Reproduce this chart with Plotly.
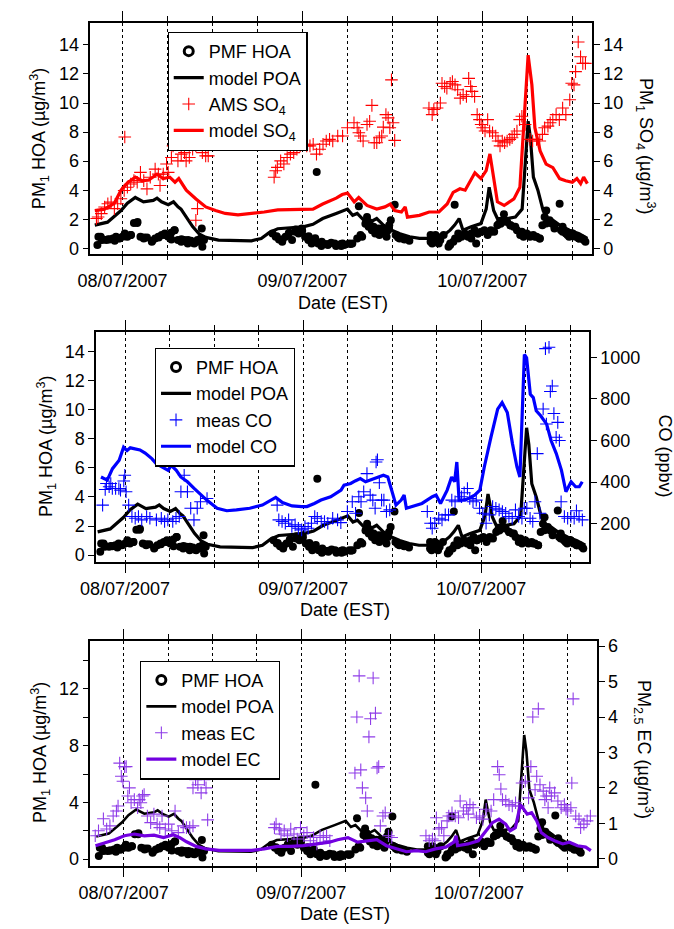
import plotly.graph_objects as go
import pandas as pd

BASE = pd.Timestamp("2007-07-08 00:00")

# ---------------- data (hours after 08/07/2007 00:00 EST) ----------------
hoa_h = [-3.35, -2.91, -2.61, -2.17, -1.74, -1.30, -0.87, -0.43, 0.0, 0.30, 0.65, 1.09, 1.52, 1.96, 2.39, 2.83,
         3.26, 3.91, 4.35, 4.78, 5.22, 5.65, 6.09, 6.52, 6.96, 7.39, 7.83, 8.26, 8.70, 9.13, 9.57, 10.0, 10.43,
         10.57, 10.65, 10.87,
         20.0, 20.43, 20.87, 21.30, 21.74, 22.17, 22.61, 23.04, 23.48, 23.91, 24.35, 24.78, 25.22, 25.9, 25.65,
         26.09, 26.52, 26.96, 27.39, 27.83, 28.48, 29.13, 29.57, 30.22, 30.65, 31.30, 31.52, 31.96, 32.39, 32.61,
         32.83, 33.04, 33.26, 33.48, 33.70, 33.91, 34.26, 34.57, 34.78, 35.22, 35.57, 35.78, 36.3, 36.43, 36.96,
         37.61, 38.26,
         41.09, 41.30, 41.52, 41.96, 42.39, 42.83, 43.48, 43.70, 44.3, 44.13, 44.35, 44.78, 45.22, 45.65, 46.09,
         46.52, 46.96, 47.17, 47.39, 47.83, 48.26, 48.70, 49.13, 49.57, 50.0, 50.43, 50.87, 51.30, 51.74, 52.17,
         52.61, 53.04, 53.48, 53.91, 54.35, 54.78, 55.22, 55.65, 56.0, 56.30, 56.52, 56.96, 57.30, 57.61, 58.3,
         58.48, 58.70, 59.13, 59.57, 60.0, 60.43, 60.87, 61.30, 61.74,
         -3.22, -2.78, -1.91, -1.04, -0.39, 0.39, 1.13, 2.0, 2.87, 3.96, 4.83, 5.61, 6.48, 6.91, 7.87, 8.74,
         9.39, 10.04, 10.70, 20.57, 21.35, 22.22, 23.09, 23.96, 24.83, 25.70, 26.57, 27.43, 28.30, 29.17,
         29.35, 30.43, 31.74, 32.52, 32.83, 33.48, 34.13, 34.78, 35.43, 36.74, 37.39, 41.09, 41.74, 42.17,
         43.70, 44.78, 45.65, 46.52, 47.39, 48.48, 49.13, 50.22, 50.65, 51.74, 52.39, 53.26, 54.13, 55.0,
         55.65, 56.52, 57.61, 58.70, 59.35, 60.0, 60.87, 61.52]
hoa_v = [0.23, 0.80, 0.61, 0.57, 0.61, 0.68, 0.80, 0.68, 0.80, 1.02, 0.80, 0.91, 1.75, 1.75, 0.80, 0.68,
         0.75, 0.45, 0.68, 0.80, 0.91, 1.02, 0.80, 0.61, 1.25, 0.57, 0.45, 0.57, 0.34, 0.52, 0.34, 0.57, 0.68,
         1.36, 0.11, 0.57,
         1.02, 0.80, 0.61, 0.45, 0.80, 1.02, 0.57, 1.14, 1.02, 1.36, 0.80, 0.57, 0.34, 5.25, 0.52,
         0.34, 0.16, 0.30, 0.23, 0.39, 0.16, 0.30, 0.23, 0.34, 0.34, 0.68, 2.89, 0.80, 1.70, 2.16,
         1.82, 1.59, 1.25, 1.48, 1.02, 1.25, 0.91, 1.36, 1.02, 0.80, 1.59, 1.93, 3.00, 0.91, 0.68,
         0.61, 0.52,
         0.91, 0.34, 0.68, 0.80, 0.57, 0.91, 0.11, 0.34, 3.00, 0.45, 0.68, 1.02, 0.80, 1.02, 0.80,
         1.02, 1.25, 0.34, 1.02, 1.14, 1.25, 0.91, 1.14, 1.14, 1.59, 1.70, 2.34, 1.82, 1.59, 1.48,
         1.25, 0.91, 0.80, 1.02, 0.80, 0.91, 0.80, 0.68, 1.59, 2.16, 2.61, 1.93, 1.70, 1.59, 3.07,
         1.25, 1.48, 1.02, 0.80, 1.02, 0.80, 0.68, 0.68, 0.45,
         0.80, 0.57, 0.62, 0.53, 0.69, 0.84, 0.91, 1.82, 0.75, 0.53, 0.75, 0.91, 1.07, 1.25, 0.62, 0.57,
         0.39, 0.46, 0.62, 0.84, 0.62, 1.07, 1.30, 1.21, 0.84, 0.69, 0.46, 0.30, 0.34, 0.16,
         0.34, 0.30, 0.91, 1.71, 1.48, 1.25, 1.37, 1.14, 1.25, 0.75, 0.68, 0.46, 0.91, 0.34,
         0.23, 0.68, 0.91, 0.68, 1.02, 1.14, 1.25, 1.71, 1.82, 1.59, 1.48, 1.14, 0.91, 0.80,
         0.68, 1.71, 1.37, 1.14, 0.91, 1.02, 0.68, 0.57]

poa_h = [-3.7, -2.0, -0.2, 0.65, 1.7, 2.8, 4.1, 4.6, 5.2, 6.1, 6.8, 7.4, 7.8, 8.5, 9.35, 10.2, 11.1, 12.8,
         15.0, 17.2, 18.5, 19.6, 20.7, 22.4, 24.1, 25.4, 26.7, 28.5, 29.3, 30.0, 30.7, 31.3, 32.2, 33.0, 33.9,
         34.8, 35.9, 37.0, 38.3, 39.6, 41.3, 42.6, 43.7, 44.3, 44.9, 45.4, 46.5, 47.8, 48.5, 48.9, 49.5, 50.0,
         51.3, 52.4, 53.3, 53.8, 54.1, 54.4, 54.8, 55.4, 56.1, 56.7, 57.4, 58.3, 59.6, 60.9, 62.0]
poa_v = [1.6, 1.8, 2.6, 3.1, 3.5, 3.2, 3.3, 3.45, 3.2, 3.0, 3.2, 2.85, 2.7, 2.15, 1.5, 1.0, 0.75, 0.57,
         0.52, 0.52, 0.68, 1.1, 1.35, 1.43, 1.48, 1.65, 2.05, 2.4, 2.55, 2.7, 2.27, 2.4, 1.93, 1.8, 2.05,
         1.6, 1.25, 1.0, 0.8, 0.68, 0.68, 0.8, 1.25, 1.6, 2.05, 1.25, 1.48, 1.7, 2.7, 4.2, 2.6, 2.05,
         2.05, 2.15, 2.7, 6.7, 8.75, 7.6, 4.9, 4.0, 2.6, 2.05, 1.93, 1.6, 1.25, 1.0, 0.68]

so4_h = [-3.48, -3.26, -2.83, -2.39, -1.96, -1.52, -1.09, -0.65, -0.22, 0.22, 0.30, 0.65, 1.09, 1.52, 1.96,
         2.39, 2.83, 3.26, 3.70, 4.35, 4.78, 5.0, 5.43, 5.87, 6.09, 6.52, 6.74, 6.96, 7.39, 7.83, 8.26, 8.48,
         8.91, 9.35, 9.78, 10.0, 9.78, 10.22, 10.65, 11.09, 11.43,
         20.22, 20.43, 20.65, 21.09, 21.52, 21.96, 22.39, 22.83, 23.26, 23.70, 24.13, 24.57, 25.0, 25.43,
         25.87, 26.30, 26.74, 27.17, 27.61, 28.04, 28.70, 29.35, 30.0, 30.87, 31.30, 31.52, 31.74, 32.09,
         32.61, 32.96, 33.26, 33.57, 33.91, 34.26, 34.57, 34.78, 35.13, 35.43, 35.65, 35.87, 36.09, 36.30,
         40.87, 41.30, 41.52, 41.96, 42.39, 42.61, 42.96, 43.26, 43.70, 44.0, 44.35, 44.70, 45.04, 45.43,
         45.87, 46.17, 46.43, 46.61, 46.96, 47.30, 47.61, 47.83, 48.04, 48.35, 48.70, 48.96, 49.35, 49.78,
         50.09, 50.35, 50.65, 50.96, 51.30, 51.65, 51.96, 52.26, 52.61, 52.96, 53.26, 53.70, 54.35, 54.70,
         55.22, 55.65, 56.0, 56.30, 56.74, 57.04, 57.39, 57.83, 58.26, 58.70, 59.13, 59.65, 59.91, 60.22,
         60.43, 60.78, 61.09, 61.39, 61.74]
so4_v = [2.05, 2.16, 2.39, 2.84, 3.07, 3.18, 2.73, 3.07, 3.41, 3.98, 7.66, 4.20, 4.43, 4.66, 4.55,
         5.23, 4.66, 4.09, 4.89, 5.45, 5.11, 4.32, 5.11, 5.80, 5.23, 6.25, 7.05, 7.27, 6.02, 6.48, 6.59, 6.02,
         6.25, 6.82, 7.05, 2.73, 1.93, 7.39, 6.59, 6.36, 6.36,
         4.89, 5.34, 5.57, 6.02, 5.80, 6.25, 6.48, 6.59, 6.82, 7.05, 7.16, 7.05, 7.05, 7.16,
         6.48, 6.82, 7.16, 7.39, 7.50, 7.39, 7.73, 7.73, 8.30, 8.64, 8.30, 7.95, 7.73, 7.39,
         8.52, 8.75, 9.84, 7.27, 7.27, 7.61, 7.73, 8.34, 9.20, 8.98, 8.30, 11.59, 8.64, 7.43,
         9.66, 9.20, 9.55, 9.66, 10.0, 11.36, 11.14, 11.02, 11.36, 11.48, 11.25, 10.91, 10.34, 10.57,
         10.45, 11.70, 11.14, 10.80, 10.45, 9.20, 8.86, 8.52, 8.30, 8.07, 8.86, 8.07, 7.95, 7.73,
         7.39, 7.05, 7.39, 7.27, 7.39, 7.50, 7.61, 7.84, 8.07, 8.86, 9.09, 8.52, 7.50, 7.39,
         7.50, 7.39, 7.84, 8.30, 8.41, 8.64, 8.86, 9.20, 8.86, 9.66, 9.20, 10.23, 11.36, 11.25,
         12.16, 14.20, 13.18, 12.73, 12.73]

so4m_h = [-3.7, -2.4, -1.1, -0.2, 0.65, 1.7, 2.6, 3.5, 4.6, 5.4, 6.3, 7.0, 7.5, 8.5, 9.8, 11.1, 12.4, 13.7,
          15.4, 17.2, 18.9, 20.7, 22.4, 24.1, 25.4, 26.7, 28.5, 29.3, 30.0, 30.9, 31.5, 32.6, 33.9, 35.0, 35.7,
          36.3, 37.2, 37.7, 38.0, 39.6, 40.9, 42.2, 43.3, 44.1, 45.0, 45.7, 47.0, 47.8, 48.5, 49.0, 49.5, 50.0,
          50.9, 52.2, 53.0, 53.7, 54.1, 54.6, 55.0, 55.7, 56.5, 57.4, 58.3, 59.1, 60.0, 60.6, 61.1, 61.5, 62.0]
so4m_v = [2.6, 2.7, 3.1, 4.0, 4.5, 4.9, 4.65, 4.7, 5.1, 4.8, 4.9, 4.55, 4.8, 4.0, 3.4, 2.85, 2.6, 2.4,
          2.3, 2.4, 2.5, 2.65, 2.65, 2.65, 2.7, 3.05, 3.45, 3.7, 3.8, 3.2, 3.5, 2.95, 2.7, 2.85, 3.05,
          2.6, 2.5, 2.85, 2.15, 2.27, 2.5, 2.5, 3.05, 3.85, 4.1, 4.0, 5.2, 4.8, 5.35, 6.5, 4.9, 3.2,
          2.95, 3.4, 4.2, 10.1, 13.3, 11.25, 8.3, 6.7, 5.8, 5.55, 4.8, 4.65, 4.55, 4.8, 4.45, 4.9, 4.45]

co_h = [-3.03, -2.68, -2.51, -2.15, -1.93, -1.72, -1.28, -0.84, -0.62, -0.18, -0.04, 0.13, 0.48, 0.92, 1.36,
        1.80, 2.24, 2.90, 3.34, 4.22, 4.88, 5.32, 5.76, 6.42, 6.86, 7.30, 7.52, 7.96, 8.40, 8.84, 9.28, 9.72,
        10.16, 10.82, 11.04,
        20.49, 20.71, 21.15, 21.59, 22.03, 22.47, 22.91, 23.35, 23.79, 24.23, 24.67, 25.11, 25.55, 25.90,
        26.43, 26.87, 27.31, 27.97, 28.63, 29.07, 29.95, 30.61, 31.05, 31.49, 31.79, 32.15, 32.59, 33.03,
        33.38, 33.69, 33.82, 34.0, 34.26, 34.56, 34.87, 35.22, 35.66,
        40.72, 41.16, 41.38, 41.73, 42.26, 42.70, 43.14, 43.58, 44.02, 44.46, 45.34, 45.69, 46.13, 46.44,
        46.88, 47.32, 47.76, 48.20, 48.64, 49.08, 49.52, 49.96, 50.40, 50.84, 51.28, 51.72, 52.16, 52.60,
        53.03, 53.47, 53.78, 54.13, 54.57, 54.93, 55.23, 55.54, 55.89, 56.33, 56.77, 56.64, 57.12, 57.30,
        57.56, 57.78, 58.08, 58.30, 58.52, 58.75, 59.19, 59.63, 60.07, 60.51, 60.82, 61.17, 61.61]
co_v = [290, 365, 394, 378, 394, 370, 370, 370, 362, 406, 433, 354, 290, 235, 227,
        235, 219, 235, 227, 219, 227, 211, 219, 211, 227, 235, 354, 433, 354, 275, 219, 275,
        306, 592, 322,
        290, 219, 211, 203, 219, 187, 195, 179, 171, 187, 179, 203, 235, 227,
        211, 211, 203, 227, 219, 206, 259, 306, 251, 330, 306, 354, 441, 338,
        314, 275, 497, 508, 397, 314, 314, 259, 267,
        259, 203, 179, 203, 227, 219, 243, 243, 314, 306, 330, 349, 370, 322,
        306, 314, 275, 251, 203, 243, 283, 275, 267, 259, 251, 235, 227, 267,
        235, 227, 275, 275, 227, 211, 306, 537, 251, 751, 679, 1041, 1048, 835,
        862, 730, 616, 687, 600, 306, 235, 227, 235, 227, 263, 235, 219]

com_h = [-3.25, -2.4, -1.7, -0.8, -0.2, 0.26, 0.7, 1.4, 2.0, 2.7, 3.6, 4.2, 5.1, 5.8, 6.2, 6.9, 7.5, 8.4, 9.3,
         10.2, 11.0, 12.4, 13.7, 15.0, 16.8, 18.5, 19.6, 20.3, 21.2, 22.5, 23.8, 24.5, 25.5, 26.4, 27.7, 29.1,
         29.5, 30.4, 31.0, 31.7, 32.4, 33.0, 33.9, 34.8, 35.4, 36.1, 36.5, 37.2, 37.6, 37.9, 38.7, 40.0, 41.4,
         41.9, 42.5, 43.4, 44.0, 44.4, 44.7, 45.0, 45.8, 47.1, 47.8, 48.4, 49.3, 50.2, 50.8, 51.5, 52.2, 52.8,
         53.2, 53.5, 53.8, 54.1, 54.6, 55.0, 55.4, 56.0, 56.8, 57.4, 58.1, 58.8, 59.4, 60.1, 60.7, 61.2, 61.6]
com_v = [425, 410, 465, 505, 568, 552, 565, 560, 555, 540, 513, 489, 473, 457, 481, 457, 425, 402, 370,
         338, 314, 275, 263, 267, 275, 290, 314, 327, 302, 286, 283, 283, 298, 314, 330, 362,
         386, 394, 406, 417, 402, 410, 425, 433, 425, 346, 290, 314, 338, 275, 283, 298, 330,
         338, 298, 362, 425, 402, 497, 314, 314, 338, 362, 473, 616, 751, 782, 735, 584, 473,
         425, 743, 1013, 997, 822, 806, 743, 719, 679, 600, 537, 457, 354, 402, 378, 378, 402]

ec_h = [-3.83, -3.39, -2.73, -2.29, -1.85, -1.41, -0.97, -0.75, -0.53, -0.31, -0.09, 0.13, 0.35, 0.57, 0.79,
        1.01, 1.45, 1.89, 2.11, 2.33, 2.55, 2.77, 3.21, 3.65, 4.09, 4.53, 4.88, 5.19, 5.63, 6.07, 6.51, 6.95,
        7.39, 8.05, 8.49, 8.93, 9.37, 9.37, 9.72, 10.03, 10.25, 10.47, 10.91, 11.13, 11.35,
        20.37, 20.59, 21.03, 21.25, 21.69, 22.13, 22.57, 23.01, 23.45, 23.89, 24.33, 24.77, 25.21, 25.65,
        26.09, 26.53, 26.97, 27.41, 27.85,
        31.24, 31.50, 31.81, 32.03, 32.25, 32.69, 32.91, 33.13, 33.35, 33.70, 34.01, 34.23, 34.45, 34.67,
        35.02, 35.33, 35.77, 36.21,
        40.83, 41.27, 41.71, 42.06, 42.24, 42.59, 42.94, 43.25, 43.69, 43.91, 44.35, 44.79, 45.23, 45.45,
        45.89, 46.33, 46.55, 46.77, 47.20, 47.65, 48.09, 48.53, 48.97, 49.63, 49.98, 50.51, 50.73, 50.95,
        51.17, 51.61, 52.05, 52.49, 52.93, 53.37, 53.81, 54.25, 54.69, 55.0, 55.26, 55.57, 55.79, 56.01,
        56.23, 56.67, 56.89, 57.11, 57.33, 57.55, 57.77, 58.21, 58.65, 59.09, 59.53, 59.75, 59.97, 60.40,
        60.53, 60.71, 61.06, 61.50, 61.72, 62.16, 62.60, 63.04]
ec_v = [0.65, 0.79, 1.13, 0.84, 0.93, 1.21, 1.35, 1.49, 2.70, 2.33, 2.19, 2.60, 2.60, 1.77, 2.0,
        1.58, 1.67, 1.44, 1.67, 1.58, 1.77, 1.81, 1.21, 1.02, 1.26, 0.98, 0.88, 1.21, 0.84, 0.98, 0.79, 1.35,
        0.74, 0.93, 0.88, 0.88, 0.93, 2.0, 2.23, 2.09, 2.47, 1.86, 2.23, 2.0, 1.10,
        0.88, 0.98, 0.84, 0.70, 0.79, 0.65, 0.84, 0.70, 0.56, 0.88, 0.65, 0.74, 0.51, 0.60,
        0.42, 0.65, 0.60, 0.65, 0.51,
        2.42, 4.0, 5.16, 2.51, 2.0, 1.72, 1.35, 3.44, 3.95, 5.10, 4.11, 2.56, 2.60, 0.93,
        1.21, 1.30, 0.65, 0.60,
        0.65, 0.51, 0.56, 0.51, 1.16, 0.84, 0.88, 0.65, 1.07, 1.21, 1.30, 1.21, 1.16, 1.63,
        1.35, 1.44, 1.26, 1.53, 1.44, 1.16, 1.21, 1.12, 1.40, 1.35, 1.67, 2.60, 2.37, 1.97,
        1.67, 1.63, 1.53, 1.49, 1.58, 1.49, 2.14, 2.19, 1.72, 2.60, 4.0, 1.95, 2.33, 4.23,
        2.09, 1.91, 1.67, 1.77, 1.44, 2.0, 1.77, 1.86, 1.63, 1.44, 1.53, 1.40, 1.35, 1.44,
        2.14, 4.51, 1.21, 1.12, 0.88, 0.98, 1.07, 1.21]

ecm_h = [-3.8, -2.5, -1.2, 0.1, 1.45, 2.8, 4.1, 5.4, 6.7, 7.6, 8.5, 9.8, 11.1, 12.9, 15.1, 17.3, 19.0, 20.8,
         22.6, 24.3, 26.1, 27.8, 28.9, 30.3, 31.6, 32.9, 34.2, 35.5, 36.9, 38.2, 39.5, 40.8, 42.1, 43.5, 44.6,
         44.9, 45.1, 46.5, 47.9, 48.7, 49.8, 50.7, 51.6, 52.2, 52.9, 53.6, 54.0, 54.5, 55.1, 55.8, 56.4, 57.3,
         58.2, 59.3, 60.2, 61.3, 62.4, 63.1]
ecm_v = [0.37, 0.45, 0.54, 0.65, 0.7, 0.65, 0.67, 0.6, 0.68, 0.6, 0.48, 0.35, 0.28, 0.24, 0.24, 0.24, 0.28, 0.35,
         0.35, 0.37, 0.42, 0.47, 0.54, 0.6, 0.47, 0.51, 0.54, 0.37, 0.28, 0.2, 0.23, 0.2, 0.28, 0.33, 0.47,
         0.65, 0.37, 0.42, 0.51, 0.74, 1.02, 1.12, 0.98, 0.79, 0.88, 1.53, 1.4, 1.26, 1.3, 1.07, 0.74, 0.6,
         0.51, 0.42, 0.47, 0.37, 0.33, 0.23]

day_ticks = ["2007-07-08", "2007-07-09", "2007-07-10"]
day_labels = ["08/07/2007", "09/07/2007", "10/07/2007"]


def T(hours):
    return [BASE + pd.Timedelta(hours=h) for h in hours]


FONT = "Liberation Sans, Arial, sans-serif"
W, H = 674, 929
RED, BLUE, PURPLE, PURPLE_L = "#FF0000", "#0000FF", "#7200E0", "#8F3DE8"

panels = [
    dict(frame=(77, 590, 19, 252), xr=(-4.3, 62.6), yl=(-0.36, 15.52), yr=(-0.36, 15.52),
         ldt=2, lminor=None, rdt=2, meas=(so4_h, so4_v), model=(so4m_h, so4m_v), col=RED, pcol=RED,
         names=("AMS SO<sub>4</sub>", "model SO<sub>4</sub>"), legpos=(156, 28),
         ltitle=(25, 136), rtitle=(645, 143), rtext="PM<sub>1</sub> SO<sub>4</sub> (µg/m<sup>3</sup>)",
         xtitle=(335, 302), lw=3.2),
    dict(frame=(83, 587, 331, 563), xr=(-3.9, 62.5), yl=(-0.44, 15.34), yr=(19, 1122),
         ldt=2, lminor=None, rdt=200, meas=(co_h, co_v), model=(com_h, com_v), col=BLUE, pcol=BLUE,
         names=("meas CO", "model CO"), legpos=(143, 347),
         ltitle=(32, 447), rtitle=(665, 456), rtext="CO (ppbv)", xtitle=(337, 612), lw=3.2),
    dict(frame=(77, 595, 643, 870), xr=(-4.5, 63.9), yl=(-0.45, 15.39), yr=(-0.19, 6.15),
         ldt=4, lminor=2, rdt=1, meas=(ec_h, ec_v), model=(ecm_h, ecm_v), col=PURPLE, pcol=PURPLE_L,
         names=("meas EC", "model EC"), legpos=(128, 663),
         ltitle=(26, 756), rtitle=(643, 753), rtext="PM<sub>2.5</sub> EC (µg/m<sup>3</sup>)",
         xtitle=(337, 919), lw=2.6),
]

fig = go.Figure()
annotations = []
layout = dict(width=W, height=H, margin=dict(l=0, r=0, t=0, b=0), paper_bgcolor="white",
              plot_bgcolor="white", showlegend=True, font=dict(family=FONT, size=18, color="black"))

for i, p in enumerate(panels):
    n = i + 1
    xa = "x" if n == 1 else f"x{n}"
    yla = "y" if n == 1 else f"y{2 * n - 1}"
    yra = f"y{2 * n}"
    leg = "legend" if n == 1 else f"legend{n}"
    l, r, t, b = p["frame"]

    fig.add_trace(go.Scatter(x=T(hoa_h), y=hoa_v, mode="markers", xaxis=xa, yaxis=yla,
                             marker=dict(symbol="circle", size=8, color="black"),
                             showlegend=False, hoverinfo="skip"))
    fig.add_trace(go.Scatter(x=[None], y=[None], mode="markers", xaxis=xa, yaxis=yla,
                             marker=dict(symbol="circle-open", size=9, color="black", line=dict(width=3)),
                             name="PMF HOA", legend=leg, legendrank=1))
    mh, mv = p["meas"]
    fig.add_trace(go.Scatter(x=T(mh), y=mv, mode="markers", xaxis=xa, yaxis=yra,
                             marker=dict(symbol="cross-thin-open", size=9, color=p["pcol"],
                                         line=dict(width=1.1, color=p["pcol"])),
                             name=p["names"][0], legend=leg, legendrank=3))
    fig.add_trace(go.Scatter(x=T(poa_h), y=poa_v, mode="lines", xaxis=xa, yaxis=yla,
                             line=dict(color="black", width=p["lw"]),
                             name="model POA", legend=leg, legendrank=2))
    oh, ov = p["model"]
    fig.add_trace(go.Scatter(x=T(oh), y=ov, mode="lines", xaxis=xa, yaxis=yra,
                             line=dict(color=p["col"], width=3.2),
                             name=p["names"][1], legend=leg, legendrank=4))

    xdom = [l / W, r / W]
    ydom = [1 - b / H, 1 - t / H]
    xkey = "xaxis" if n == 1 else f"xaxis{n}"
    ylkey = "yaxis" if n == 1 else f"yaxis{2 * n - 1}"
    yrkey = f"yaxis{2 * n}"
    layout[xkey] = dict(
        domain=xdom, anchor=yla, type="date",
        range=[BASE + pd.Timedelta(hours=p["xr"][0]), BASE + pd.Timedelta(hours=p["xr"][1])],
        tickmode="array", tickvals=day_ticks, ticktext=day_labels,
        ticks="outside", ticklen=10, tickwidth=1, tickcolor="black",
        showline=True, linecolor="black", linewidth=1.5, mirror="ticks",
        showgrid=True, griddash="dot", gridcolor="black", gridwidth=1,
        minor=dict(dtick=6 * 3600 * 1000, tick0="2007-07-08", ticks="outside", ticklen=5,
                   tickcolor="black", showgrid=True, griddash="dot", gridcolor="black", gridwidth=1),
        ticklabelstandoff=0, tickfont=dict(size=18), zeroline=False,
    )
    ly = dict(domain=ydom, anchor=xa, range=list(p["yl"]), dtick=p["ldt"], tick0=0,
              ticks="outside", ticklen=6, tickcolor="black", showline=True, linecolor="black",
              linewidth=1.5, showgrid=False, zeroline=False, tickfont=dict(size=18))
    if p["lminor"]:
        ly["minor"] = dict(dtick=p["lminor"], ticks="outside", ticklen=6, tickcolor="black")
    layout[ylkey] = ly
    layout[yrkey] = dict(overlaying=yla, side="right", anchor=xa, range=list(p["yr"]),
                         dtick=p["rdt"], tick0=0, ticks="outside", ticklen=6, tickcolor="black",
                         showline=True, linecolor="black", linewidth=1.5, showgrid=False,
                         zeroline=False, tickfont=dict(size=18))
    lx, ly0 = p["legpos"]
    layout[leg] = dict(x=lx / W, y=1 - ly0 / H, xanchor="left", yanchor="top", xref="paper",
                       yref="paper", bgcolor="white", bordercolor="black", borderwidth=1.2,
                       font=dict(family=FONT, size=18, color="black"), tracegroupgap=0,
                       itemwidth=30)

    annotations.append(dict(text="PM<sub>1</sub> HOA (µg/m<sup>3</sup>)", x=p["ltitle"][0] / W,
                            y=1 - p["ltitle"][1] / H, xref="paper", yref="paper", textangle=-90,
                            showarrow=False, xanchor="center", yanchor="middle",
                            font=dict(family=FONT, size=18, color="black")))
    annotations.append(dict(text=p["rtext"], x=p["rtitle"][0] / W, y=1 - p["rtitle"][1] / H,
                            xref="paper", yref="paper", textangle=90, showarrow=False,
                            xanchor="center", yanchor="middle",
                            font=dict(family=FONT, size=18, color="black")))
    annotations.append(dict(text="Date (EST)", x=p["xtitle"][0] / W, y=1 - p["xtitle"][1] / H,
                            xref="paper", yref="paper", showarrow=False, xanchor="center",
                            yanchor="middle", font=dict(family=FONT, size=18, color="black")))

layout["annotations"] = annotations
fig.update_layout(**layout)
fig.write_html("out.html")
